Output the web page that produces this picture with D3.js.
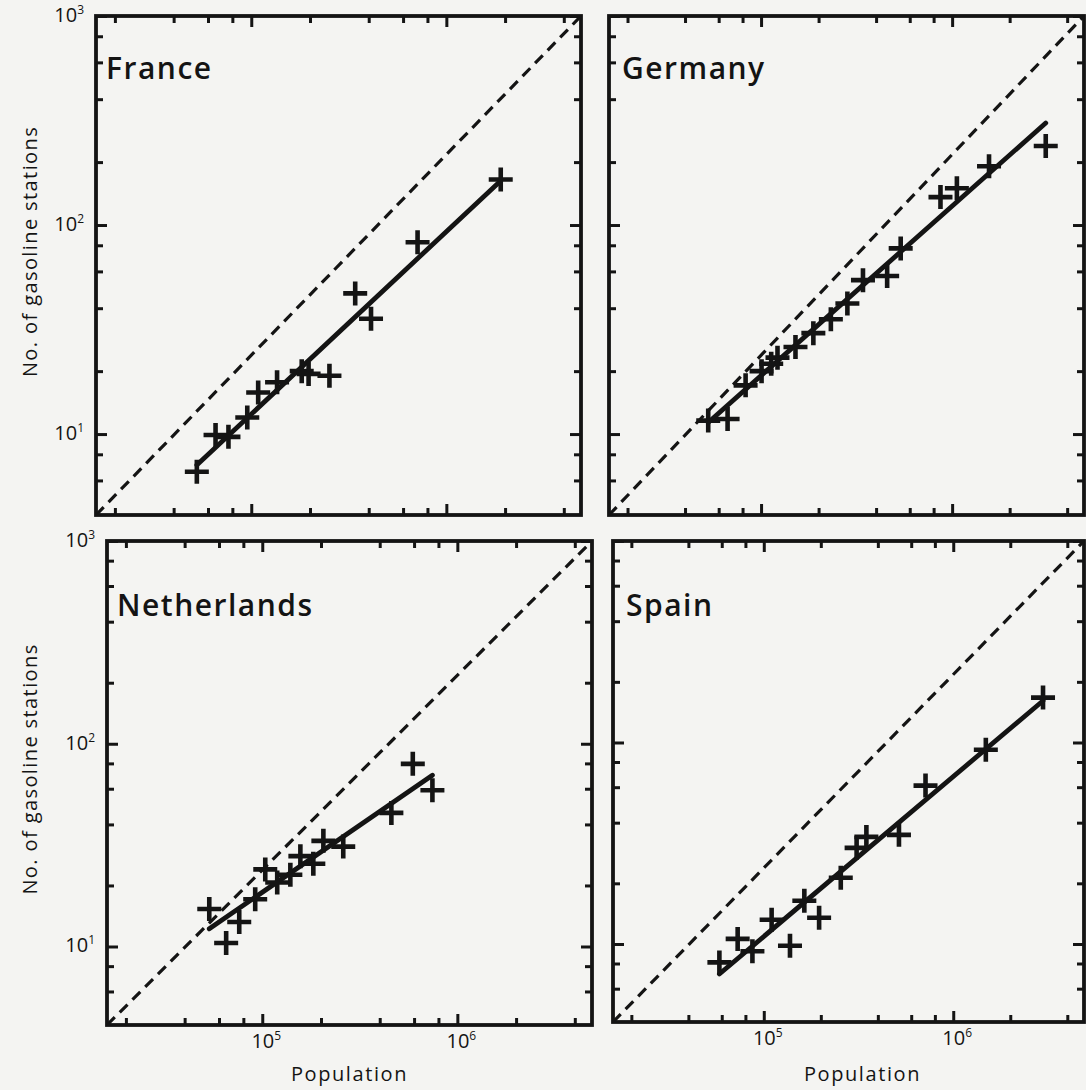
<!DOCTYPE html>
<html>
<head>
<meta charset="utf-8">
<script src="https://cdn.jsdelivr.net/npm/d3@7"></script>
<style>
  html, body { margin: 0; padding: 0; background: #f4f4f2; }
  svg { display: block; }
</style>
</head>
<body>
<svg id="chart" width="1086" height="1090"></svg>
<script>
// Number of gasoline stations against city population, four European countries

const countries = ["France", "Germany", "Netherlands", "Spain"];

const francePopulation = [52600, 65600, 76400, 95400, 108500, 135600, 181400, 196700, 251600, 341000, 411000, 712000, 1900000];
const franceStations   = [6.6, 9.9, 9.7, 12.0, 15.8, 17.7, 20.0, 19.4, 19.0, 47.1, 35.6, 82.7, 165];

const germanyPopulation = [52900, 66800, 83000, 100600, 113000, 121900, 151400, 187800, 231900, 283000, 341500, 457000, 538000, 869000, 1059000, 1560000, 3090000];
const germanyStations   = [11.6, 11.8, 17.1, 20.0, 21.7, 23.2, 26.1, 30.4, 35.4, 42.1, 54.5, 57.0, 77.3, 136, 150, 191, 239];

const netherlandsPopulation = [53500, 65300, 76200, 92000, 103600, 119300, 139300, 156800, 182700, 205700, 260100, 459000, 591000, 745000];
const netherlandsStations   = [15.3, 10.4, 13.2, 17.1, 24.0, 20.7, 22.6, 27.9, 25.6, 33.2, 31.1, 45.6, 79.6, 59.0];

const spainPopulation = [58300, 72800, 87100, 110000, 137500, 163700, 195900, 254900, 309000, 348000, 517000, 714000, 1486000, 2978000];
const spainStations   = [8.1, 10.6, 9.2, 13.2, 9.8, 16.4, 13.5, 21.3, 30.0, 34.0, 34.8, 61.1, 92.1, 167];

// Axis ranges and ticks
const populationRange = [1.6e4, 4.9e6];
const stationsRange   = [4.1, 1000];
const populationMajorTicks = [1e5, 1e6];
const stationsMajorTicks   = [10, 100, 1000];
const minorMultipliers     = [2, 4, 6, 8];

const xTitle = "Population";
const yTitle = "No. of gasoline stations";

const seriesPopulation = [francePopulation, germanyPopulation, netherlandsPopulation, spainPopulation];
const seriesStations   = [franceStations, germanyStations, netherlandsStations, spainStations];

// Panel boxes (2 x 2 grid)
const panels = [
  { left: 96,  top: 16,  width: 485, height: 499, yLabels: true,  xLabels: false },
  { left: 609, top: 16,  width: 475, height: 499, yLabels: false, xLabels: false },
  { left: 107, top: 541, width: 485, height: 484, yLabels: true,  xLabels: true  },
  { left: 613, top: 541, width: 471, height: 481, yLabels: false, xLabels: true  }
];

const ink = "#141414";
const font = "'Open Sans', sans-serif";
const svg = d3.select("#chart");

function minorTicks(range) {
  const out = [];
  const lo = Math.floor(Math.log10(range[0])), hi = Math.ceil(Math.log10(range[1]));
  for (let e = lo; e <= hi; e++) {
    minorMultipliers.forEach(m => {
      const v = m * Math.pow(10, e);
      if (v > range[0] && v < range[1]) out.push(v);
    });
  }
  return out;
}

function fitPowerLaw(xs, ys) {
  const lx = xs.map(Math.log10), ly = ys.map(Math.log10);
  const mx = d3.mean(lx), my = d3.mean(ly);
  let sxy = 0, sxx = 0;
  lx.forEach((v, i) => { sxy += (v - mx) * (ly[i] - my); sxx += (v - mx) * (v - mx); });
  const b = sxy / sxx, a = my - b * mx;
  return x => Math.pow(10, a + b * Math.log10(x));
}

function addPower(sel, base, exp, size) {
  sel.append("tspan").text(base);
  sel.append("tspan")
    .attr("font-size", size)
    .attr("dy", -8)
    .text(exp);
}

countries.forEach((name, i) => {
  const p = panels[i];
  const g = svg.append("g").attr("transform", `translate(${p.left},${p.top})`);

  const x = d3.scaleLog().domain(populationRange).range([0, p.width]);
  const y = d3.scaleLog().domain(stationsRange).range([p.height, 0]);

  const xMinor = minorTicks(populationRange);
  const yMinor = minorTicks(stationsRange);

  // inward ticks on all four sides
  const majorLen = 11, minorLen = 7;
  const axes = [
    { gen: d3.axisBottom(x), tr: `translate(0,${p.height})`, major: populationMajorTicks, minor: xMinor },
    { gen: d3.axisTop(x),    tr: `translate(0,0)`,           major: populationMajorTicks, minor: xMinor },
    { gen: d3.axisLeft(y),   tr: `translate(0,0)`,           major: stationsMajorTicks,   minor: yMinor },
    { gen: d3.axisRight(y),  tr: `translate(${p.width},0)`,  major: stationsMajorTicks,   minor: yMinor }
  ];
  axes.forEach(a => {
    [[a.major, majorLen], [a.minor, minorLen]].forEach(([vals, len]) => {
      const ax = g.append("g").attr("transform", a.tr)
        .call(a.gen.tickValues(vals).tickSize(-len).tickFormat(""));
      ax.select(".domain").remove();
      ax.selectAll("line").attr("stroke", ink).attr("stroke-width", 3);
    });
  });

  // clip for lines inside the frame
  const clipId = "clip" + i;
  g.append("clipPath").attr("id", clipId)
    .append("rect").attr("width", p.width).attr("height", p.height);

  // dashed reference line across the panel
  g.append("line")
    .attr("clip-path", `url(#${clipId})`)
    .attr("x1", x(populationRange[0])).attr("y1", y(stationsRange[0]))
    .attr("x2", x(populationRange[1])).attr("y2", y(stationsRange[1]))
    .attr("stroke", ink).attr("stroke-width", 3.2)
    .attr("stroke-dasharray", "11,7");

  // least-squares power-law fit
  const pop = seriesPopulation[i], st = seriesStations[i];
  const fit = fitPowerLaw(pop, st);
  const ext = d3.extent(pop);
  g.append("line")
    .attr("x1", x(ext[0])).attr("y1", y(fit(ext[0])))
    .attr("x2", x(ext[1])).attr("y2", y(fit(ext[1])))
    .attr("stroke", ink).attr("stroke-width", 4.8)
    .attr("stroke-linecap", "round");

  // plus markers
  const arm = 12;
  g.append("g").selectAll("path")
    .data(pop.map((v, k) => [v, st[k]]))
    .join("path")
    .attr("d", d => {
      const cx = x(d[0]), cy = y(d[1]);
      return `M${cx - arm},${cy}H${cx + arm}M${cx},${cy - arm}V${cy + arm}`;
    })
    .attr("stroke", ink).attr("stroke-width", 4.6)
    .attr("fill", "none");

  // frame
  g.append("rect")
    .attr("width", p.width).attr("height", p.height)
    .attr("fill", "none").attr("stroke", ink).attr("stroke-width", 3.8);

  // country name
  g.append("text")
    .attr("x", i % 2 === 0 ? 10 : 13)
    .attr("y", i < 2 ? 63 : 75)
    .attr("font-family", font)
    .attr("font-weight", 600)
    .attr("font-size", 30)
    .attr("letter-spacing", 1.5)
    .attr("fill", ink)
    .text(name);

  // y tick labels
  if (p.yLabels) {
    stationsMajorTicks.forEach(v => {
      const exp = String(Math.round(Math.log10(v)));
      const t = g.append("text")
        .attr("x", -12).attr("y", y(v) + 6)
        .attr("text-anchor", "end")
        .attr("font-family", font)
        .attr("font-size", 20)
        .attr("fill", ink);
      addPower(t, "10", exp, 12);
    });
    svg.append("text")
      .attr("transform", `translate(37,${p.top + p.height / 2 - 14}) rotate(-90)`)
      .attr("text-anchor", "middle")
      .attr("font-family", font)
      .attr("font-size", 20)
      .attr("letter-spacing", 1.4)
      .attr("fill", ink)
      .text(yTitle);
  }

  // x tick labels
  if (p.xLabels) {
    populationMajorTicks.forEach(v => {
      const exp = String(Math.round(Math.log10(v)));
      const t = g.append("text")
        .attr("x", x(v) + 4).attr("y", p.height + 23)
        .attr("text-anchor", "middle")
        .attr("font-family", font)
        .attr("font-size", 20)
        .attr("fill", ink);
      addPower(t, "10", exp, 12);
    });
    g.append("text")
      .attr("x", p.width / 2 + (i === 3 ? 14 : 0)).attr("y", 1081 - p.top)
      .attr("text-anchor", "middle")
      .attr("font-family", font)
      .attr("font-size", 20)
      .attr("letter-spacing", 1.6)
      .attr("fill", ink)
      .text(xTitle);
  }
});
</script>
</body>
</html>
